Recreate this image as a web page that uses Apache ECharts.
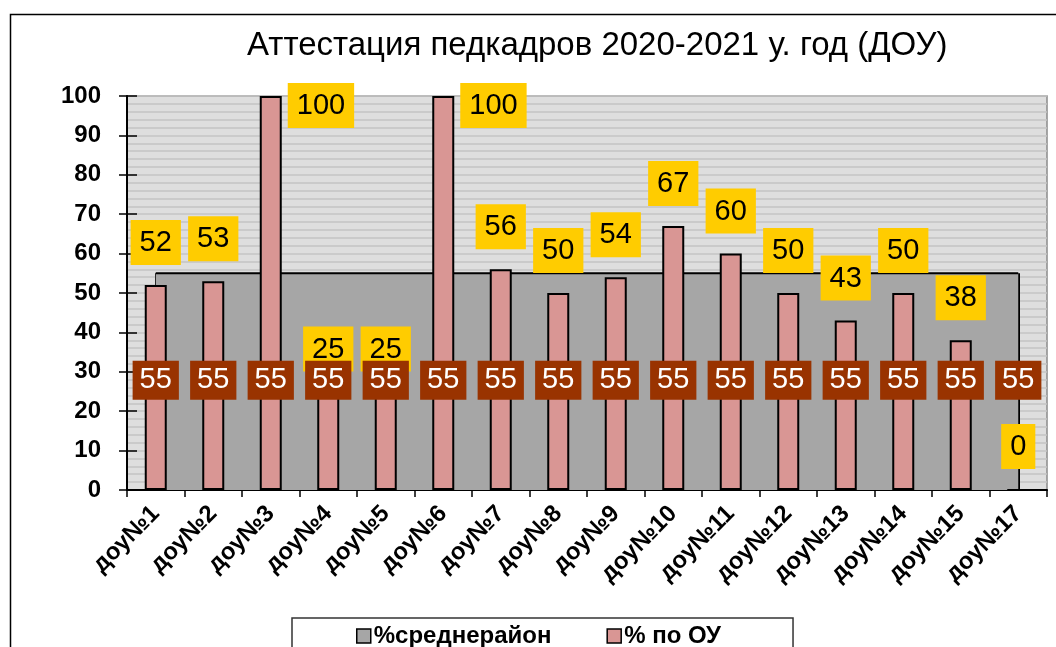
<!DOCTYPE html>
<html>
<head>
<meta charset="utf-8">
<script src="https://cdn.jsdelivr.net/npm/echarts@6/dist/echarts.min.js"></script>
<style>
html,body{margin:0;padding:0;background:#fff;}
#chart{width:1056px;height:647px;}
</style>
</head>
<body>
<div id="chart"></div>
<script>
const titleText = 'Аттестация педкадров 2020-2021 у. год (ДОУ)';
const categories = ['доу№1','доу№2','доу№3','доу№4','доу№5','доу№6','доу№7','доу№8','доу№9','доу№10','доу№11','доу№12','доу№13','доу№14','доу№15','доу№17'];
const avgName = '%среднерайон';
const ouName = '% по ОУ';
const avgValues = [55,55,55,55,55,55,55,55,55,55,55,55,55,55,55,55];
const ouValues = [52,53,100,25,25,100,56,50,54,67,60,50,43,50,38,0];
const yMin = 0, yMax = 100, yInterval = 10;

const FONT = '"Liberation Sans", Arial, sans-serif';
const chart = echarts.init(document.getElementById('chart'));

const barData = ouValues.map(v => v >= yMax ? {
  value: v,
  label: { position: ['100%', 0], align: 'left', verticalAlign: 'top', offset: [6, -13] }
} : v);

const lastIdx = categories.length - 1;

chart.setOption({
  animation: false,
  backgroundColor: '#ffffff',
  textStyle: { fontFamily: FONT },
  graphic: [{
    type: 'rect', left: 8, top: 12, silent: true, z: -10,
    shape: { width: 1200, height: 800 },
    style: { fill: 'none', stroke: '#000', lineWidth: 1.5 }
  }],
  title: {
    text: titleText, left: 242, top: 24,
    textStyle: { fontFamily: FONT, fontSize: 33, fontWeight: 'normal', color: '#000' }
  },
  legend: {
    left: 292, top: 618,
    data: [
      { name: avgName, icon: 'rect', itemStyle: { color: '#a6a6a6', borderColor: '#000', borderWidth: 1.5 } },
      { name: ouName, icon: 'rect', itemStyle: { color: '#d99694', borderColor: '#000', borderWidth: 1.5 } }
    ],
    itemWidth: 14, itemHeight: 14, itemGap: 55,
    padding: [6, 72, 20, 64],
    borderColor: '#333', borderWidth: 1.5,
    textStyle: { fontFamily: FONT, fontSize: 24, fontWeight: 'bold', color: '#000', padding: [0, 0, 0, -2] }
  },
  grid: {
    left: 127, right: 9, top: 96, bottom: 157,
    show: true, backgroundColor: '#dedede', borderColor: '#8a8a8a', borderWidth: 1.5
  },
  xAxis: {
    type: 'category', data: categories, boundaryGap: true,
    axisLine: { lineStyle: { color: '#000', width: 2 } },
    axisTick: { show: true, length: 7, lineStyle: { color: '#000', width: 1.5 } },
    axisLabel: { rotate: 45, interval: 0, margin: 20, color: '#000', fontFamily: FONT, fontSize: 24, fontWeight: 'bold' },
    splitLine: { show: false }
  },
  yAxis: [{
    type: 'value', min: yMin, max: yMax, interval: yInterval,
    axisLine: { show: true, lineStyle: { color: '#000', width: 2 } },
    axisTick: { show: true, length: 8, lineStyle: { color: '#000', width: 1.5 } },
    axisLabel: { margin: 26, color: '#000', fontFamily: FONT, fontSize: 24, fontWeight: 'bold' },
    splitLine: { show: true, lineStyle: { color: '#c4c4c4', width: 1.5 } },
    minorTick: { show: false, splitNumber: 5 },
    minorSplitLine: { show: true, lineStyle: { color: '#c4c4c4', width: 1.5 } }
  }, {
    type: 'value', min: yMin, max: yMax, interval: yInterval, position: 'left', offset: 0,
    axisLine: { show: false },
    axisTick: { show: true, inside: true, length: 10, lineStyle: { color: '#000', width: 1.5 } },
    axisLabel: { show: false },
    splitLine: { show: false }
  }],
  series: [{
    name: avgName, type: 'line', data: avgValues, z: 1,
    symbol: 'circle', symbolSize: 0.1, showSymbol: false,
    itemStyle: { color: '#a6a6a6' },
    lineStyle: { color: '#000', width: 2 },
    areaStyle: { color: '#a6a6a6', opacity: 1 },
    markLine: {
      silent: true, z: 1, symbol: ['none', 'none'], label: { show: false },
      lineStyle: { color: '#000', width: 2, type: 'solid' },
      data: [
        [{ coord: [categories[0], yMin] }, { coord: [categories[0], avgValues[0]] }],
        [{ coord: [categories[lastIdx], yMin] }, { coord: [categories[lastIdx], avgValues[lastIdx]] }]
      ]
    }
  }, {
    name: ouName, type: 'bar', data: barData, z: 3, barWidth: 22,
    itemStyle: { color: '#d99694', borderColor: '#000', borderWidth: 2 },
    label: {
      show: true, position: 'top', distance: 20,
      fontFamily: FONT, fontSize: 29, color: '#000',
      backgroundColor: '#ffcc00', padding: [8, 9, 7, 9], lineHeight: 30
    }
  }, {
    name: avgName + ' ', type: 'line', data: avgValues, z: 5,
    symbol: 'circle', symbolSize: 0.1, showSymbol: true,
    itemStyle: { color: 'rgba(0,0,0,0)' },
    lineStyle: { opacity: 0 },
    label: {
      show: true, position: 'inside', offset: [0, 107],
      fontFamily: FONT, fontSize: 29, color: '#fff',
      backgroundColor: '#993300', padding: [5, 7, 4, 7], lineHeight: 30
    }
  }]
});
</script>
</body>
</html>
